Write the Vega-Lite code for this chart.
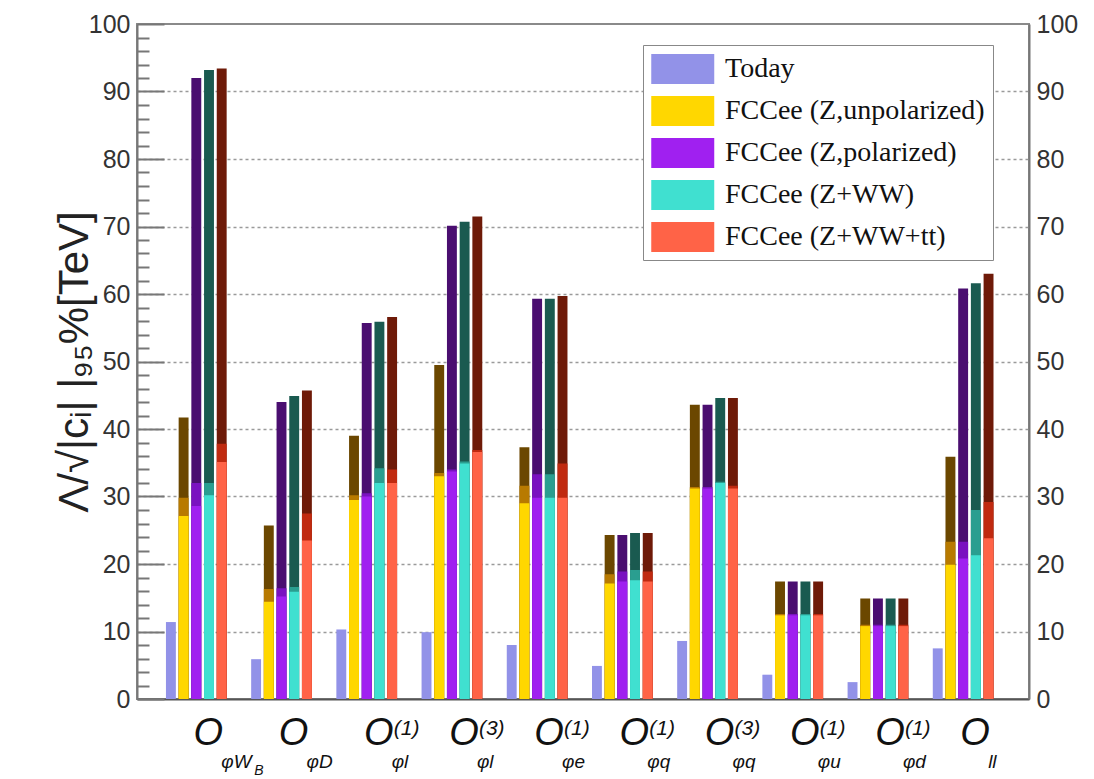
{
  "$schema": "https://vega.github.io/schema/vega-lite/v6.json",
  "width": 892,
  "height": 675,
  "autosize": {"type": "none"},
  "padding": {"left": 137, "top": 24, "right": 65, "bottom": 80},
  "background": "white",
  "config": {
    "view": {"stroke": "#8a8a8a", "strokeWidth": 2},
    "bar": {"strokeWidth": 0}
  },
  "datasets": {
    "bars": [
      {"g": "g1", "s": "Today", "lo": 11.4, "mid": null, "hi": null},
      {"g": "g1", "s": "FCCee (Z,unpolarized)", "lo": 27.1, "mid": 29.8, "hi": 41.7},
      {"g": "g1", "s": "FCCee (Z,polarized)", "lo": 28.6, "mid": 32.0, "hi": 92.0},
      {"g": "g1", "s": "FCCee (Z+WW)", "lo": 30.2, "mid": 32.0, "hi": 93.2},
      {"g": "g1", "s": "FCCee (Z+WW+tt)", "lo": 35.1, "mid": 37.8, "hi": 93.4},
      {"g": "g2", "s": "Today", "lo": 5.9, "mid": null, "hi": null},
      {"g": "g2", "s": "FCCee (Z,unpolarized)", "lo": 14.4, "mid": 16.3, "hi": 25.7},
      {"g": "g2", "s": "FCCee (Z,polarized)", "lo": 15.2, "mid": 16.4, "hi": 44.0},
      {"g": "g2", "s": "FCCee (Z+WW)", "lo": 15.9, "mid": 16.6, "hi": 44.9},
      {"g": "g2", "s": "FCCee (Z+WW+tt)", "lo": 23.5, "mid": 27.5, "hi": 45.7},
      {"g": "g3", "s": "Today", "lo": 10.3, "mid": null, "hi": null},
      {"g": "g3", "s": "FCCee (Z,unpolarized)", "lo": 29.5, "mid": 30.2, "hi": 39.0},
      {"g": "g3", "s": "FCCee (Z,polarized)", "lo": 30.0, "mid": 30.5, "hi": 55.7},
      {"g": "g3", "s": "FCCee (Z+WW)", "lo": 32.0, "mid": 34.2, "hi": 55.9},
      {"g": "g3", "s": "FCCee (Z+WW+tt)", "lo": 32.0, "mid": 34.0, "hi": 56.6},
      {"g": "g4", "s": "Today", "lo": 9.9, "mid": null, "hi": null},
      {"g": "g4", "s": "FCCee (Z,unpolarized)", "lo": 33.0, "mid": 33.5, "hi": 49.5},
      {"g": "g4", "s": "FCCee (Z,polarized)", "lo": 33.7, "mid": 34.0, "hi": 70.1},
      {"g": "g4", "s": "FCCee (Z+WW)", "lo": 34.9, "mid": 35.2, "hi": 70.7},
      {"g": "g4", "s": "FCCee (Z+WW+tt)", "lo": 36.6, "mid": 36.9, "hi": 71.5},
      {"g": "g5", "s": "Today", "lo": 8.0, "mid": null, "hi": null},
      {"g": "g5", "s": "FCCee (Z,unpolarized)", "lo": 29.0, "mid": 31.6, "hi": 37.3},
      {"g": "g5", "s": "FCCee (Z,polarized)", "lo": 29.8, "mid": 33.3, "hi": 59.3},
      {"g": "g5", "s": "FCCee (Z+WW)", "lo": 29.8, "mid": 33.3, "hi": 59.3},
      {"g": "g5", "s": "FCCee (Z+WW+tt)", "lo": 29.8, "mid": 34.9, "hi": 59.7},
      {"g": "g6", "s": "Today", "lo": 4.9, "mid": null, "hi": null},
      {"g": "g6", "s": "FCCee (Z,unpolarized)", "lo": 17.1, "mid": 18.5, "hi": 24.3},
      {"g": "g6", "s": "FCCee (Z,polarized)", "lo": 17.4, "mid": 18.9, "hi": 24.3},
      {"g": "g6", "s": "FCCee (Z+WW)", "lo": 17.6, "mid": 19.1, "hi": 24.6},
      {"g": "g6", "s": "FCCee (Z+WW+tt)", "lo": 17.4, "mid": 18.9, "hi": 24.6},
      {"g": "g7", "s": "Today", "lo": 8.6, "mid": null, "hi": null},
      {"g": "g7", "s": "FCCee (Z,unpolarized)", "lo": 31.2, "mid": 31.4, "hi": 43.6},
      {"g": "g7", "s": "FCCee (Z,polarized)", "lo": 31.2, "mid": 31.4, "hi": 43.6},
      {"g": "g7", "s": "FCCee (Z+WW)", "lo": 32.0, "mid": 32.2, "hi": 44.6},
      {"g": "g7", "s": "FCCee (Z+WW+tt)", "lo": 31.2, "mid": 31.6, "hi": 44.6},
      {"g": "g8", "s": "Today", "lo": 3.6, "mid": null, "hi": null},
      {"g": "g8", "s": "FCCee (Z,unpolarized)", "lo": 12.4, "mid": 12.6, "hi": 17.4},
      {"g": "g8", "s": "FCCee (Z,polarized)", "lo": 12.4, "mid": 12.6, "hi": 17.4},
      {"g": "g8", "s": "FCCee (Z+WW)", "lo": 12.4, "mid": 12.6, "hi": 17.4},
      {"g": "g8", "s": "FCCee (Z+WW+tt)", "lo": 12.4, "mid": 12.6, "hi": 17.4},
      {"g": "g9", "s": "Today", "lo": 2.5, "mid": null, "hi": null},
      {"g": "g9", "s": "FCCee (Z,unpolarized)", "lo": 10.8, "mid": 11.0, "hi": 14.9},
      {"g": "g9", "s": "FCCee (Z,polarized)", "lo": 10.8, "mid": 11.0, "hi": 14.9},
      {"g": "g9", "s": "FCCee (Z+WW)", "lo": 10.8, "mid": 11.0, "hi": 14.9},
      {"g": "g9", "s": "FCCee (Z+WW+tt)", "lo": 10.8, "mid": 11.0, "hi": 14.9},
      {"g": "g10", "s": "Today", "lo": 7.5, "mid": null, "hi": null},
      {"g": "g10", "s": "FCCee (Z,unpolarized)", "lo": 19.9, "mid": 23.3, "hi": 35.9},
      {"g": "g10", "s": "FCCee (Z,polarized)", "lo": 20.8, "mid": 23.3, "hi": 60.8},
      {"g": "g10", "s": "FCCee (Z+WW)", "lo": 21.3, "mid": 28.0, "hi": 61.6},
      {"g": "g10", "s": "FCCee (Z+WW+tt)", "lo": 23.8, "mid": 29.2, "hi": 63.0}
    ],
    "labels": [
      {"g": "g1", "main": "O", "sup": "", "sub": "φW", "sub2": "B"},
      {"g": "g2", "main": "O", "sup": "", "sub": "φD", "sub2": ""},
      {"g": "g3", "main": "O", "sup": "(1)", "sub": "φl", "sub2": ""},
      {"g": "g4", "main": "O", "sup": "(3)", "sub": "φl", "sub2": ""},
      {"g": "g5", "main": "O", "sup": "(1)", "sub": "φe", "sub2": ""},
      {"g": "g6", "main": "O", "sup": "(1)", "sub": "φq", "sub2": ""},
      {"g": "g7", "main": "O", "sup": "(3)", "sub": "φq", "sub2": ""},
      {"g": "g8", "main": "O", "sup": "(1)", "sub": "φu", "sub2": ""},
      {"g": "g9", "main": "O", "sup": "(1)", "sub": "φd", "sub2": ""},
      {"g": "g10", "main": "O", "sup": "", "sub": "ll", "sub2": ""}
    ]
  },
  "encoding": {
    "x": {
      "field": "g",
      "type": "nominal",
      "scale": {
        "domain": ["g1", "g2", "g3", "g4", "g5", "g6", "g7", "g8", "g9", "g10"],
        "paddingInner": 0.2,
        "paddingOuter": 0.3345,
        "align": 0.4425
      },
      "axis": {"labels": false, "ticks": false, "domain": true, "domainColor": "#555", "domainWidth": 2, "title": null, "grid": false}
    }
  },
  "layer": [
    {
      "data": {"name": "bars"},
      "mark": {"type": "bar"},
      "encoding": {
        "xOffset": {"field": "s", "type": "nominal", "scale": {"domain": ["Today", "FCCee (Z,unpolarized)", "FCCee (Z,polarized)", "FCCee (Z+WW)", "FCCee (Z+WW+tt)"], "paddingInner": 0.22, "paddingOuter": 0.2935}},
        "y": {
          "field": "hi",
          "type": "quantitative",
          "scale": {"domain": [0, 100], "nice": false},
          "axis": {
            "orient": "left",
            "values": [0, 10, 20, 30, 40, 50, 60, 70, 80, 90, 100],
            "ticks": false,
            "domainColor": "#777",
            "domainWidth": 2,
            "grid": true,
            "gridDash": [3, 3],
            "gridColor": "#9a9a9a",
            "gridWidth": 1.5,
            "gridOpacity": {"condition": {"test": "datum.value > 0 && datum.value < 100", "value": 1}, "value": 0},
            "labelOverlap": false,
            "labelFont": "Liberation Sans",
            "labelFontSize": 25,
            "labelColor": "#333",
            "labelPadding": 7,
            "title": "Λ/√|cᵢ| |₉₅%[TeV]",
            "titleFont": "Liberation Sans",
            "titleFontSize": 42,
            "titleFontWeight": "normal",
            "titleColor": "#222",
            "titlePadding": -8
          }
        },
        "color": {
          "field": "s",
          "type": "nominal",
          "scale": {"domain": ["Today", "FCCee (Z,unpolarized)", "FCCee (Z,polarized)", "FCCee (Z+WW)", "FCCee (Z+WW+tt)"], "range": ["#9292E8", "#6B4700", "#4A0E70", "#1A5A50", "#6E1A08"]},
          "legend": null
        }
      }
    },
    {
      "data": {"name": "bars"},
      "mark": {"type": "bar"},
      "encoding": {
        "xOffset": {"field": "s", "type": "nominal"},
        "y": {
          "field": "mid",
          "type": "quantitative",
          "scale": {"domain": [0, 100], "nice": false},
          "axis": {
            "orient": "right",
            "values": [0, 10, 20, 30, 40, 50, 60, 70, 80, 90, 100],
            "ticks": false,
            "domainColor": "#777",
            "domainWidth": 2,
            "grid": false,
            "labelOverlap": false,
            "labelFont": "Liberation Sans",
            "labelFontSize": 25,
            "labelColor": "#333",
            "labelPadding": 7,
            "title": null
          }
        },
        "color": {
          "field": "s",
          "type": "nominal",
          "scale": {"domain": ["Today", "FCCee (Z,unpolarized)", "FCCee (Z,polarized)", "FCCee (Z+WW)", "FCCee (Z+WW+tt)"], "range": ["#9292E8", "#B87A00", "#7A12C0", "#2A9E90", "#C02A10"]},
          "legend": null
        }
      }
    },
    {
      "data": {"name": "bars"},
      "mark": {"type": "bar"},
      "encoding": {
        "xOffset": {"field": "s", "type": "nominal"},
        "y": {
          "field": "lo",
          "type": "quantitative",
          "scale": {"domain": [0, 100], "nice": false},
          "axis": {"orient": "left", "offset": -27, "values": [0, 10, 20, 30, 40, 50, 60, 70, 80, 90, 100], "domain": false, "labels": false, "grid": false, "title": null, "ticks": true, "tickSize": 27, "tickColor": "#777", "tickWidth": 2}
        },
        "color": {
          "field": "s",
          "type": "nominal",
          "scale": {"domain": ["Today", "FCCee (Z,unpolarized)", "FCCee (Z,polarized)", "FCCee (Z+WW)", "FCCee (Z+WW+tt)"], "range": ["#9292E8", "#FFD700", "#A020F0", "#40E0D0", "#FF6347"]},
          "legend": {
            "orient": "none",
            "legendX": 506,
            "legendY": 21,
            "title": null,
            "symbolType": "M-1,-0.95H3V0.95H-1Z",
            "symbolSize": 992,
            "symbolStrokeWidth": 0,
            "symbolOpacity": 1,
            "padding": 8,
            "strokeColor": "#888",
            "fillColor": "white",
            "labelFont": "Liberation Serif",
            "labelFontSize": 28,
            "labelColor": "#111",
            "labelOffset": 42,
            "labelLimit": 400,
            "rowPadding": 11
          }
        }
      }
    },
    {
      "data": {"name": "labels"},
      "mark": {"type": "text", "font": "Liberation Sans", "fontStyle": "italic", "fontSize": 38, "align": "center", "baseline": "alphabetic", "dx": 12, "dy": 46, "color": "#111"},
      "encoding": {
        "y": {
          "datum": 0,
          "type": "quantitative",
          "scale": {"domain": [0, 100], "nice": false},
          "axis": {"orient": "left", "offset": -12, "values": [2, 4, 6, 8, 12, 14, 16, 18, 22, 24, 26, 28, 32, 34, 36, 38, 42, 44, 46, 48, 52, 54, 56, 58, 62, 64, 66, 68, 72, 74, 76, 78, 82, 84, 86, 88, 92, 94, 96, 98], "domain": false, "labels": false, "grid": false, "title": null, "ticks": true, "tickSize": 12, "tickColor": "#777", "tickWidth": 2}
        },
        "text": {"field": "main"}
      }
    },
    {
      "data": {"name": "labels"},
      "mark": {"type": "text", "font": "Liberation Sans", "fontStyle": "italic", "fontSize": 21, "align": "left", "baseline": "alphabetic", "dx": 27, "dy": 36, "color": "#111"},
      "encoding": {
        "y": {"datum": 0, "type": "quantitative", "scale": {"domain": [0, 100], "nice": false}, "axis": null},
        "text": {"field": "sup"}
      }
    },
    {
      "data": {"name": "labels"},
      "mark": {"type": "text", "font": "Liberation Sans", "fontStyle": "italic", "fontSize": 19, "align": "left", "baseline": "alphabetic", "dx": 25, "dy": 69, "color": "#111"},
      "encoding": {
        "y": {"datum": 0, "type": "quantitative", "scale": {"domain": [0, 100], "nice": false}, "axis": null},
        "text": {"field": "sub"}
      }
    },
    {
      "data": {"name": "labels"},
      "mark": {"type": "text", "font": "Liberation Sans", "fontStyle": "italic", "fontSize": 14, "align": "left", "baseline": "alphabetic", "dx": 58, "dy": 76, "color": "#111"},
      "encoding": {
        "y": {"datum": 0, "type": "quantitative", "scale": {"domain": [0, 100], "nice": false}, "axis": null},
        "text": {"field": "sub2"}
      }
    }
  ],
  "resolve": {"scale": {"color": "independent", "y": "independent"}}
}
